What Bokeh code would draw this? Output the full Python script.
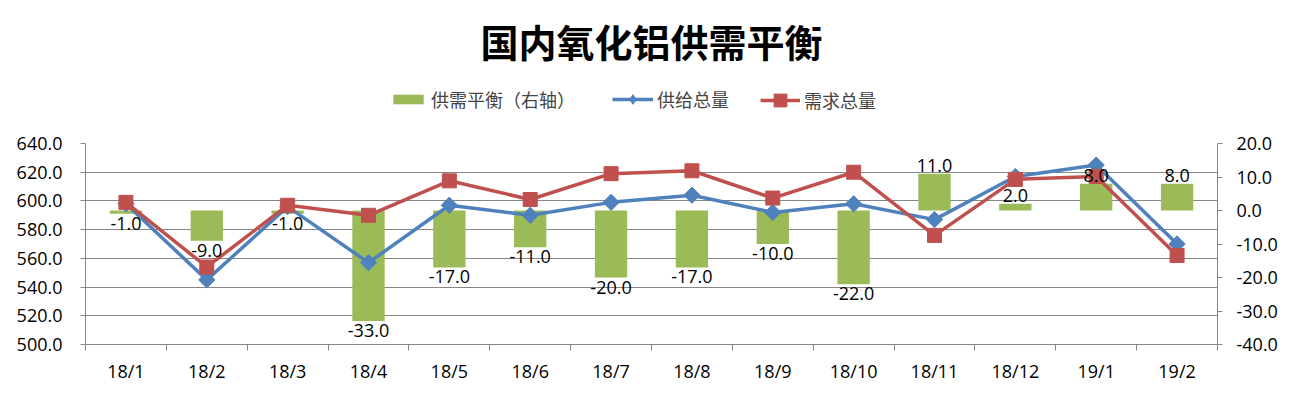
import math
from bokeh.plotting import figure
from bokeh.layouts import column
from bokeh.models import (Range1d, LinearAxis, FixedTicker, NumeralTickFormatter,
                          ColumnDataSource, Legend, LegendItem, Label)
from bokeh.embed import file_html
from bokeh.resources import INLINE
from bokeh.core.properties import value

months = ["18/1", "18/2", "18/3", "18/4", "18/5", "18/6", "18/7",
          "18/8", "18/9", "18/10", "18/11", "18/12", "19/1", "19/2"]
supply = [598, 545, 596, 557, 597, 590, 599, 604, 592, 598, 587, 617, 625, 570]
demand = [599, 554, 597, 590, 614, 601, 619, 621, 602, 620, 576, 615, 617, 562]
balance = [-1, -9, -1, -33, -17, -11, -20, -17, -10, -22, 11, 2, 8, 8]

title_text = "国内氧化铝供需平衡"
name_bal = "供需平衡（右轴）"
name_sup = "供给总量"
name_dem = "需求总量"

GREEN = "#9BBB59"
BLUE = "#4F81BD"
RED = "#C0504D"
GRID = "#868686"
NUM_FONT = "Open Sans"
CJK_FONT = "Noto Sans CJK SC"

FW, FH = 1132, 201           # plot frame size
BL, BR, BB, BT = 85, 82, 54, 12
HEAD_H = 131

# ---------------- header: title + legend ----------------
head = figure(frame_width=FW, frame_height=HEAD_H, output_backend="svg", title=None,
              toolbar_location=None, x_range=Range1d(0, FW), y_range=Range1d(0, HEAD_H),
              min_border_left=BL, min_border_right=BR, min_border_top=0,
              min_border_bottom=0, outline_line_color=None,
              x_axis_type=None, y_axis_type=None)
head.grid.visible = False
head.add_layout(Label(x=FW / 2, y=HEAD_H - 40, text=title_text, text_align="center",
                      text_baseline="middle", text_font=CJK_FONT, text_font_size="38px",
                      text_font_style="bold", text_color="black"))
dummy = ColumnDataSource(dict(x=[-1000], y=[-1000]))
hb = head.vbar(x="x", top="y", width=1, source=dummy, fill_color=GREEN, line_color=None)
hl1 = head.line("x", "y", source=dummy, line_color=BLUE, line_width=3.5)
hm1 = head.scatter("x", "y", source=dummy, marker="diamond", size=8,
                   fill_color=BLUE, line_color=BLUE)
hl2 = head.line("x", "y", source=dummy, line_color=RED, line_width=3.5)
hm2 = head.scatter("x", "y", source=dummy, marker="square", size=9,
                   fill_color=RED, line_color=RED)

common = dict(orientation="horizontal", label_text_font=CJK_FONT,
              label_text_font_size="18px", padding=0, margin=0, border_line_color=None,
              background_fill_alpha=0, label_standoff=4)
head.add_layout(Legend(items=[LegendItem(label=name_bal, renderers=[hb])],
                       location=(304, 19), glyph_width=38, glyph_height=12, **common))
head.add_layout(Legend(items=[LegendItem(label=name_sup, renderers=[hl1, hm1])],
                       location=(527, 19), glyph_width=41, glyph_height=24, **common))
head.add_layout(Legend(items=[LegendItem(label=name_dem, renderers=[hl2, hm2])],
                       location=(675, 15), glyph_width=40, glyph_height=32, **common))

# ---------------- main chart ----------------
xs = [i + 0.5 for i in range(len(months))]
src = ColumnDataSource(dict(x=xs, m=months, sup=supply, dem=demand, bal=balance))
neg = ColumnDataSource(dict(x=[x for x, b in zip(xs, balance) if b < 0],
                            bal=[b for b in balance if b < 0],
                            lab=["%.1f" % b for b in balance if b < 0]))
pos = ColumnDataSource(dict(x=[x for x, b in zip(xs, balance) if b >= 0],
                            bal=[b for b in balance if b >= 0],
                            lab=["%.1f" % b for b in balance if b >= 0]))

p = figure(frame_width=FW, frame_height=FH, output_backend="svg", toolbar_location=None,
           title=None, x_range=Range1d(0, len(months)), y_range=Range1d(500, 640),
           min_border_left=BL, min_border_right=BR, min_border_top=BT,
           min_border_bottom=BB, outline_line_color=None)
p.extra_y_ranges = {"right": Range1d(-40, 20)}

p.vbar(x="x", top="bal", bottom=0, width=0.4, source=src, y_range_name="right",
       fill_color=GREEN, line_color=None)
p.line("x", "sup", source=src, line_color=BLUE, line_width=3.5)
p.scatter("x", "sup", source=src, marker="square", angle=math.pi / 4, size=11.5,
          fill_color=BLUE, line_color=BLUE)
p.line("x", "dem", source=src, line_color=RED, line_width=3.5)
p.scatter("x", "dem", source=src, marker="square", size=14, fill_color=RED,
          line_color=RED)

p.text("x", "bal", text="lab", source=neg, y_range_name="right", text_align="center",
       text_baseline="top", y_offset=3, text_font=value(NUM_FONT),
       text_font_size="18px", text_color="black")
p.text("x", "bal", text="lab", source=pos, y_range_name="right", text_align="center",
       text_baseline="bottom", y_offset=-2, text_font=value(NUM_FONT),
       text_font_size="18px", text_color="black")

p.xaxis.ticker = FixedTicker(ticks=xs, minor_ticks=list(range(len(months) + 1)))
p.xaxis.major_label_overrides = {x: m for x, m in zip(xs, months)}
p.xaxis.major_tick_out = 0
p.xaxis.major_tick_in = 0
p.xaxis.minor_tick_out = 6
p.xaxis.minor_tick_in = 0
p.xaxis.minor_tick_line_color = GRID
p.xaxis.axis_line_color = GRID
p.xaxis.major_label_standoff = 8

p.yaxis.ticker = FixedTicker(ticks=list(range(500, 641, 20)))
p.yaxis.formatter = NumeralTickFormatter(format="0.0")
p.yaxis.minor_tick_line_color = None
p.yaxis.major_tick_out = 5
p.yaxis.major_tick_in = 0
p.yaxis.major_tick_line_color = GRID
p.yaxis.axis_line_color = GRID
p.yaxis.major_label_standoff = 18

ra = LinearAxis(y_range_name="right", ticker=FixedTicker(ticks=list(range(-40, 21, 10))),
                formatter=NumeralTickFormatter(format="0.0"))
ra.minor_tick_line_color = None
ra.major_tick_out = 5
ra.major_tick_in = 0
ra.major_tick_line_color = GRID
ra.axis_line_color = GRID
ra.major_label_standoff = 14
p.add_layout(ra, "right")

for ax in [p.xaxis[0], p.yaxis[0], ra]:
    ax.major_label_text_font = NUM_FONT
    ax.major_label_text_font_size = "18px"
    ax.major_label_text_color = "black"

p.xgrid.grid_line_color = None
p.ygrid.ticker = FixedTicker(ticks=list(range(500, 641, 20)))
p.ygrid.grid_line_color = GRID
p.ygrid.grid_line_width = 1

layout = column(head, p, spacing=0)
open("out.html", "w").write(file_html(layout, INLINE))
